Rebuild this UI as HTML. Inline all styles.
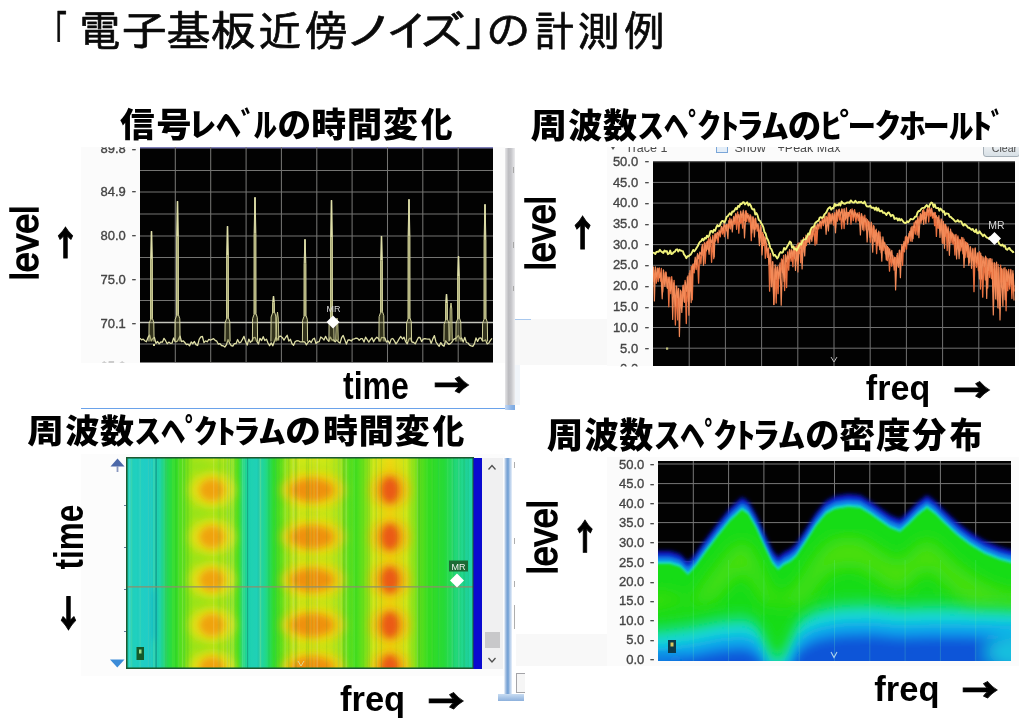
<!DOCTYPE html>
<html lang="ja"><head><meta charset="utf-8"><title>「電子基板近傍ノイズ」の計測例</title>
<style>
html,body{margin:0;padding:0;background:#fff}
body{width:1024px;height:727px;position:relative;overflow:hidden;font-family:"Liberation Sans","Noto Sans CJK JP",sans-serif;color:#000}
.abs{position:absolute;display:block}
.ch{filter:blur(0.45px)}
.yl{position:absolute;font-family:"Liberation Sans",sans-serif;font-size:13px;line-height:16px;text-align:right;color:#444;-webkit-text-stroke:0.35px #444;white-space:nowrap;filter:blur(0.5px)}
.pane{position:absolute;background:#fbfbfb}
.tb{position:absolute;overflow:hidden;font-family:"Liberation Sans",sans-serif;font-size:12.5px;line-height:15px;color:#4c4c4c;filter:blur(0.45px)}
.tb span{position:absolute;white-space:nowrap}
</style></head><body>


<!-- panes / window chrome -->
<div class="pane" style="left:81px;top:147px;width:424px;height:216px;background:#fbfbfb"></div>
<div class="pane" style="left:81px;top:407.5px;width:424px;height:1.3px;background:#6aa2ea"></div>
<div class="pane" style="left:504.5px;top:147.5px;width:10px;height:262px;background:linear-gradient(90deg,#e6e6e8,#bcbcc0 35%,#c4c4c8 60%,#ececee)"></div>
<div class="pane" style="left:505px;top:404.5px;width:10px;height:5.5px;background:linear-gradient(90deg,#c4d8f2,#8cb4e8 60%,#7aa8e0)"></div>

<div class="pane" style="left:607px;top:147px;width:412px;height:220px;background:#fbfbfb"></div>
<div class="pane" style="left:515px;top:319px;width:92px;height:46px;background:#f8f8f8"></div>
<div class="pane" style="left:515px;top:319px;width:16px;height:1.2px;background:#a8c8ee"></div>
<div class="pane" style="left:515px;top:365px;width:5px;height:40px;background:#f1f5fa"></div>
<div class="pane" style="left:512px;top:366px;width:512px;height:50px;background:#fff;left:520px"></div>

<div class="pane" style="left:81px;top:454px;width:424px;height:222px;background:#fcfcfc"></div>
<div class="pane" style="left:482px;top:458px;width:21px;height:211px;background:#f0f0f1"></div>
<div class="pane" style="left:485px;top:631.5px;width:14.5px;height:16px;background:#c8c8ca"></div>
<svg class="abs" style="left:482px;top:458px" width="21" height="211" viewBox="0 0 21 211"><path d="M6.5 11.5l3.5-4l3.5 4M6.5 200l3.5 4l3.5-4" stroke="#505050" stroke-width="1.3" fill="none"/></svg>
<div class="pane" style="left:503.5px;top:458px;width:8px;height:243px;background:linear-gradient(90deg,#f4f8fc,#9ab8de 25%,#6c9cd2 50%,#a8c4e6 70%,#e8f0fa)"></div>
<div class="pane" style="left:497.5px;top:694px;width:26px;height:7px;background:linear-gradient(180deg,#c8dcf2,#8cb0dc)"></div>
<div class="pane" style="left:515.5px;top:673px;width:9px;height:20px;background:#f6f6f6;border:1px solid #a4a4a8;border-right:none;box-sizing:border-box"></div>
<div class="pane" style="left:516px;top:634px;width:91px;height:32px;background:#f8f8f8"></div>
<svg class="abs" style="left:105px;top:455px" width="22" height="220" viewBox="105 455 22 220"><path d="M110.5 466.5L117.5 458.5L124.5 466.5Z" fill="#4c68a8"/><rect x="116.6" y="466" width="1.8" height="6" fill="#8a98c0"/><path d="M110 659.5L124.5 659.5L117.3 667.5Z" fill="#3c8cd8"/><path d="M124 505.5h2.4M124 547.5h2.4M124 589.5h2.4M124 631.5h2.4" stroke="#6a7a9a" stroke-width="1"/></svg>

<div class="pane" style="left:607px;top:457px;width:412px;height:209px;background:#fbfbfb"></div>
<svg class="abs" style="left:512px;top:147px" width="6" height="520" viewBox="512 147 6 520"><path d="M513.5 167v6M513.5 242v6M513.5 286v5M514.5 462v6M514.5 538v6M514.5 581v6M514.5 605v24" stroke="#9a9a9a" stroke-width="1" opacity="0.8"/></svg>

<svg class="abs ch" style="left:140px;top:147px" width="353" height="215.5" viewBox="140 147 353 215.5">
<rect x="140" y="147" width="353" height="215.5" fill="#020202"/>
<rect x="140" y="147" width="353" height="1.5" fill="#7e7eb8"/>
<path d="M175.3 147V362.5M210.7 147V362.5M246.1 147V362.5M281.4 147V362.5M316.8 147V362.5M352.1 147V362.5M387.5 147V362.5M422.8 147V362.5M458.2 147V362.5M140 170.5H493M140 192H493M140 214H493M140 236H493M140 257.5H493M140 279H493M140 300.5H493M140 344H493" stroke="#747472" stroke-width="1.05" fill="none"/>
<path d="M140 322.5H493" stroke="#c4c4bc" stroke-width="1.5" fill="none"/>
<path d="M140 338.3 L141.6 339.9 L143.2 339.1 L144.8 340.8 L146.4 341.7 L148 337.4 L149.6 335 L151.2 340.9 L152.8 338.6 L154.4 337.4 L156 343.3 L157.6 341.5 L159.2 343.8 L160.8 341.8 L162.4 342.2 L164 338.3 L165.6 340.7 L167.2 343.7 L168.8 342.1 L170.4 343.3 L172 343.2 L173.6 338 L175.2 341.6 L176.8 341.7 L178.4 339.4 L180 336.1 L181.6 341.6 L183.2 340.8 L184.8 342.5 L186.4 344.6 L188 344.1 L189.6 345.7 L191.2 341.9 L192.8 343.7 L194.4 341.5 L196 344.6 L197.6 345.5 L199.2 339.4 L200.8 336.9 L202.4 336.5 L204 342.6 L205.6 340.9 L207.2 341.8 L208.8 339.4 L210.4 340.1 L212 339.3 L213.6 338.7 L215.2 340.4 L216.8 341.2 L218.4 344.2 L220 343.7 L221.6 345.5 L223.2 345.8 L224.8 347 L226.4 344.9 L228 339.6 L229.6 343.1 L231.2 345.6 L232.8 346.2 L234.4 343.6 L236 343.7 L237.6 339.5 L239.2 342.8 L240.8 342.2 L242.4 339.4 L244 336.4 L245.6 341.6 L247.2 345.1 L248.8 339.1 L250.4 342.4 L252 340.6 L253.6 337.6 L255.2 337.5 L256.8 341.4 L258.4 344 L260 338.3 L261.6 340.5 L263.2 336.7 L264.8 340.6 L266.4 339.1 L268 343.1 L269.6 345.7 L271.2 342.9 L272.8 345.8 L274.4 341.3 L276 337.3 L277.6 339.9 L279.2 336.3 L280.8 336.1 L282.4 337.7 L284 340.2 L285.6 337.5 L287.2 335.3 L288.8 341.2 L290.4 339.3 L292 343.8 L293.6 345.3 L295.2 341.6 L296.8 340.7 L298.4 340.8 L300 341.8 L301.6 341.9 L303.2 341.6 L304.8 342 L306.4 344.9 L308 342.5 L309.6 340.8 L311.2 342.5 L312.8 339.2 L314.4 338.2 L316 343.5 L317.6 342 L319.2 341.6 L320.8 336.9 L322.4 338.2 L324 340.1 L325.6 336.3 L327.2 339.6 L328.8 341.2 L330.4 337.1 L332 340 L333.6 340 L335.2 341.8 L336.8 339.8 L338.4 341.9 L340 343.1 L341.6 337.7 L343.2 335.5 L344.8 339.7 L346.4 344.1 L348 340 L349.6 339.9 L351.2 341 L352.8 339.2 L354.4 338.8 L356 338.2 L357.6 338.3 L359.2 340.3 L360.8 338.7 L362.4 338.7 L364 342 L365.6 337.2 L367.2 339.6 L368.8 342.1 L370.4 339.6 L372 337.8 L373.6 341.8 L375.2 338.9 L376.8 337.2 L378.4 338.5 L380 341.2 L381.6 337.5 L383.2 337.6 L384.8 337.8 L386.4 342.1 L388 340.7 L389.6 343.6 L391.2 339.1 L392.8 338.5 L394.4 340.9 L396 343.9 L397.6 341.6 L399.2 338.7 L400.8 336.5 L402.4 339 L404 337.2 L405.6 341.6 L407.2 343.8 L408.8 339.3 L410.4 338.1 L412 342 L413.6 342.4 L415.2 343.9 L416.8 340.7 L418.4 337.5 L420 337.4 L421.6 341.6 L423.2 339.1 L424.8 338.6 L426.4 338.9 L428 339.1 L429.6 339.1 L431.2 343.4 L432.8 338.9 L434.4 335.6 L436 342 L437.6 344.4 L439.2 346.3 L440.8 342.6 L442.4 345.2 L444 346.2 L445.6 340.7 L447.2 342.7 L448.8 344.3 L450.4 343.6 L452 342 L453.6 339.4 L455.2 338.7 L456.8 337.4 L458.4 335.5 L460 339 L461.6 338 L463.2 342 L464.8 337.4 L466.4 342.5 L468 343 L469.6 345.2 L471.2 345.9 L472.8 346.3 L474.4 343.8 L476 337.9 L477.6 341.4 L479.2 338.1 L480.8 337.8 L482.4 340.6 L484 340.8 L485.6 339.9 L487.2 343.9 L488.8 343 L490.4 340.3 L492 338.3" stroke="#dedea6" stroke-width="1.3" fill="none" stroke-linejoin="round"/>
<path d="M148.9 341.5 L149.1 323.6 L150.5 319.6 L150.6 258.9 L151.4 232 L151.6 232 L152.4 258.9 L152.5 318.6 L153.8 322.6 L154.1 341.5" stroke="#dcdca4" stroke-width="0.95" fill="#6c6c3c" fill-opacity="0.45" stroke-linejoin="round"/>
<path d="M151.5 231 V258.9" stroke="#dedea8" stroke-width="1.5" fill="none"/>
<path d="M151.5 258.9 V319.6" stroke="#c4c48c" stroke-width="2.2" fill="none" opacity="0.8"/>
<path d="M174.9 341.5 L175.1 319.8 L176.5 315.8 L176.6 236.7 L177.4 202 L177.6 202 L178.4 236.7 L178.5 314.8 L179.8 318.8 L180.1 341.5" stroke="#dcdca4" stroke-width="0.95" fill="#6c6c3c" fill-opacity="0.45" stroke-linejoin="round"/>
<path d="M177.5 201 V236.7" stroke="#dedea8" stroke-width="1.5" fill="none"/>
<path d="M177.5 236.7 V315.8" stroke="#c4c48c" stroke-width="2.2" fill="none" opacity="0.8"/>
<path d="M224.9 341.5 L225.1 322.8 L226.5 318.8 L226.6 255.1 L227.4 227 L227.6 227 L228.4 255.1 L228.5 317.8 L229.8 321.8 L230.1 341.5" stroke="#dcdca4" stroke-width="0.95" fill="#6c6c3c" fill-opacity="0.45" stroke-linejoin="round"/>
<path d="M227.5 226 V255.1" stroke="#dedea8" stroke-width="1.5" fill="none"/>
<path d="M227.5 255.1 V318.8" stroke="#c4c48c" stroke-width="2.2" fill="none" opacity="0.8"/>
<path d="M252.4 341.5 L252.6 318.5 L254 314.5 L254.1 233.6 L254.9 198 L255.1 198 L255.9 233.6 L256 313.5 L257.3 317.5 L257.6 341.5" stroke="#dcdca4" stroke-width="0.95" fill="#6c6c3c" fill-opacity="0.45" stroke-linejoin="round"/>
<path d="M255 197 V233.6" stroke="#dedea8" stroke-width="1.5" fill="none"/>
<path d="M255 233.6 V314.5" stroke="#c4c48c" stroke-width="2.2" fill="none" opacity="0.8"/>
<path d="M270.9 341.5 L271.1 317 L272.5 313 L272.6 302.4 L273.4 297 L273.6 297 L274.4 302.4 L274.5 312 L275.8 316 L276.1 341.5" stroke="#dcdca4" stroke-width="0.95" fill="#6c6c3c" fill-opacity="0.45" stroke-linejoin="round"/>
<path d="M273.5 296 V302.4" stroke="#dedea8" stroke-width="1.5" fill="none"/>
<path d="M273.5 302.4 V313" stroke="#c4c48c" stroke-width="2.2" fill="none" opacity="0.8"/>
<path d="M302.4 341.5 L302.6 320.3 L304 316.3 L304.1 263.5 L304.9 240 L305.1 240 L305.9 263.5 L306 315.3 L307.3 319.3 L307.6 341.5" stroke="#dcdca4" stroke-width="0.95" fill="#6c6c3c" fill-opacity="0.45" stroke-linejoin="round"/>
<path d="M305 239 V263.5" stroke="#dedea8" stroke-width="1.5" fill="none"/>
<path d="M305 263.5 V316.3" stroke="#c4c48c" stroke-width="2.2" fill="none" opacity="0.8"/>
<path d="M328.9 341.5 L329.1 323.2 L330.5 319.2 L330.6 237.1 L331.4 201 L331.6 201 L332.4 237.1 L332.5 318.2 L333.8 322.2 L334.1 341.5" stroke="#dcdca4" stroke-width="0.95" fill="#6c6c3c" fill-opacity="0.45" stroke-linejoin="round"/>
<path d="M331.5 200 V237.1" stroke="#dedea8" stroke-width="1.5" fill="none"/>
<path d="M331.5 237.1 V319.2" stroke="#c4c48c" stroke-width="2.2" fill="none" opacity="0.8"/>
<path d="M378.9 341.5 L379.1 316.7 L380.5 312.7 L380.6 260.3 L381.4 237 L381.6 237 L382.4 260.3 L382.5 311.7 L383.8 315.7 L384.1 341.5" stroke="#dcdca4" stroke-width="0.95" fill="#6c6c3c" fill-opacity="0.45" stroke-linejoin="round"/>
<path d="M381.5 236 V260.3" stroke="#dedea8" stroke-width="1.5" fill="none"/>
<path d="M381.5 260.3 V312.7" stroke="#c4c48c" stroke-width="2.2" fill="none" opacity="0.8"/>
<path d="M406.4 341.5 L406.6 322.9 L408 318.9 L408.1 236.3 L408.9 200 L409.1 200 L409.9 236.3 L410 317.9 L411.3 321.9 L411.6 341.5" stroke="#dcdca4" stroke-width="0.95" fill="#6c6c3c" fill-opacity="0.45" stroke-linejoin="round"/>
<path d="M409 199 V236.3" stroke="#dedea8" stroke-width="1.5" fill="none"/>
<path d="M409 236.3 V318.9" stroke="#c4c48c" stroke-width="2.2" fill="none" opacity="0.8"/>
<path d="M443.9 341.5 L444.1 324.2 L445.5 320.2 L445.6 303.2 L446.4 295 L446.6 295 L447.4 303.2 L447.5 319.2 L448.8 323.2 L449.1 341.5" stroke="#dcdca4" stroke-width="0.95" fill="#6c6c3c" fill-opacity="0.45" stroke-linejoin="round"/>
<path d="M446.5 294 V303.2" stroke="#dedea8" stroke-width="1.5" fill="none"/>
<path d="M446.5 303.2 V320.2" stroke="#c4c48c" stroke-width="2.2" fill="none" opacity="0.8"/>
<path d="M455.9 341.5 L456.1 323.1 L457.5 319.1 L457.6 276.2 L458.4 257 L458.6 257 L459.4 276.2 L459.5 318.1 L460.8 322.1 L461.1 341.5" stroke="#dcdca4" stroke-width="0.95" fill="#6c6c3c" fill-opacity="0.45" stroke-linejoin="round"/>
<path d="M458.5 256 V276.2" stroke="#dedea8" stroke-width="1.5" fill="none"/>
<path d="M458.5 276.2 V319.1" stroke="#c4c48c" stroke-width="2.2" fill="none" opacity="0.8"/>
<path d="M482.4 341.5 L482.6 323.2 L484 319.2 L484.1 239.9 L484.9 205 L485.1 205 L485.9 239.9 L486 318.2 L487.3 322.2 L487.6 341.5" stroke="#dcdca4" stroke-width="0.95" fill="#6c6c3c" fill-opacity="0.45" stroke-linejoin="round"/>
<path d="M485 204 V239.9" stroke="#dedea8" stroke-width="1.5" fill="none"/>
<path d="M485 239.9 V319.2" stroke="#c4c48c" stroke-width="2.2" fill="none" opacity="0.8"/>
<path d="M276.2 340.5 L276.7 318 L277.5 312 L278.3 318 L278.8 340.5" stroke="#d4d498" stroke-width="0.9" fill="#7c7c44" fill-opacity="0.6"/>
<path d="M449.7 340.5 L450.2 309 L451 303 L451.8 309 L452.3 340.5" stroke="#d4d498" stroke-width="0.9" fill="#7c7c44" fill-opacity="0.6"/>
<path d="M335.7 340.5 L336.2 324 L337 318 L337.8 324 L338.3 340.5" stroke="#d4d498" stroke-width="0.9" fill="#7c7c44" fill-opacity="0.6"/>
<text x="333.5" y="312" font-family="Liberation Sans, sans-serif" font-size="9" fill="#dcdcdc" text-anchor="middle">MR</text>
<path d="M333 315.5 L339.5 322 L333 328.5 L326.5 322Z" fill="#fff"/>
<rect x="153" y="344" width="2" height="2" fill="#d9d9a0"/>
</svg>
<svg class="abs ch" style="left:653px;top:161px" width="362" height="205" viewBox="653 161 362 205">
<rect x="653" y="161" width="362" height="205" fill="#020202"/>
<path d="M689.2 161V366M725.4 161V366M761.6 161V366M797.8 161V366M834 161V366M870.2 161V366M906.4 161V366M942.6 161V366M978.8 161V366M653 161.7H1015M653 182.4H1015M653 203.1H1015M653 223.9H1015M653 244.6H1015M653 265.3H1015M653 286H1015M653 306.7H1015M653 327.5H1015M653 348.2H1015" stroke="#727272" stroke-width="1" fill="none"/>
<path d="M653.1 269 L654.2 281.8 L655.1 270.2 L656.3 283.2 L657.4 268.1 L658.2 281.5 L659.3 267.9 L660.5 281.1 L661.4 268.5 L662.7 292 L663.9 273 L664.7 284.7 L665.8 271.9 L667.1 287.2 L667.9 277 L668.8 306.8 L669.8 277.1 L670.8 293.6 L671.7 276.6 L672.9 294.8 L674.1 280.3 L675.4 325.1 L676.6 286.3 L677.7 319.9 L678.5 288.3 L679.7 308.5 L681 291.4 L682 306.6 L683 285.9 L684.3 301.5 L685.1 280.3 L686.3 323.5 L687.3 277.2 L688.4 301.7 L689.3 273.1 L690.4 290.9 L691.3 266.3 L692.3 299.8 L693.2 263.9 L694.2 272.8 L695 260.8 L696.2 269.5 L697.4 255.6 L698.6 283.2 L699.6 253.4 L700.9 263.8 L702.1 246.8 L703.1 255.3 L704.4 242.7 L705.2 263.5 L706.4 242 L707.6 249.2 L708.5 238.6 L709.5 247 L710.4 236.9 L711.6 262.3 L712.8 235.4 L713.7 258.7 L714.8 234.8 L715.6 241 L716.8 233.3 L718.1 242.8 L719.1 230.2 L720.3 236.8 L721.4 226.7 L722.5 234 L723.7 227.9 L724.5 236.6 L725.6 225.7 L726.7 230.8 L727.7 224.3 L729 228.3 L729.8 218.1 L730.6 228.9 L731.5 220.7 L732.6 225.4 L733.7 216.3 L734.7 224.1 L735.6 214.2 L736.6 229.3 L737.7 212 L738.8 233.2 L740 214.9 L740.8 223.3 L741.7 214.4 L742.6 228.1 L743.5 213.6 L744.4 220.5 L745.4 211.2 L746.7 221.5 L747.7 213.3 L749 222.2 L750.1 214.6 L751.3 240.7 L752.2 216.9 L753.3 229 L754.1 218.8 L755.4 229.1 L756.4 223.4 L757.2 231.2 L758.1 225.4 L759.2 237.3 L760.4 225.4 L761.5 242.4 L762.5 232.4 L763.5 245.4 L764.4 236.9 L765.3 258.3 L766.5 243.5 L767.5 257.4 L768.5 248 L769.6 291.2 L770.5 253.4 L771.5 286.5 L772.8 261.7 L773.9 304.5 L775 268.8 L776.2 303 L777.1 267 L778.1 293.7 L779.3 265 L780.6 276.8 L781.5 259 L782.5 272.5 L783.6 255.4 L784.6 290.5 L785.7 255.1 L786.6 287.5 L787.7 251.8 L788.7 270.1 L789.9 250 L791.1 261.3 L792.1 251.2 L792.9 266.6 L793.8 248.6 L794.8 258.7 L796 246.3 L797.1 260.9 L798 243.4 L799 253.7 L799.9 245.4 L800.7 262.7 L802 242.1 L802.8 252.1 L803.6 239.9 L804.8 247.1 L805.6 237.7 L806.4 245.6 L807.4 237.2 L808.4 242 L809.6 234.1 L810.7 238.9 L811.6 229.6 L812.6 236.5 L813.8 228.9 L815.1 245.1 L815.9 225.5 L816.8 243.6 L817.9 224.4 L818.8 228.9 L820 221.5 L821.1 228.5 L822.3 218 L823.3 225.6 L824.2 218.2 L825.5 223.2 L826.3 216.4 L827.4 222.2 L828.4 212.8 L829.2 223.3 L830.3 214.7 L831.2 220.1 L832.5 213.4 L833.5 225.1 L834.7 212.7 L835.5 227.9 L836.4 209.8 L837.4 221.1 L838.5 209.8 L839.6 219.9 L840.5 212.7 L841.7 228.8 L842.9 209.3 L844.1 228.5 L845.1 212.5 L846.4 218 L847.7 212.4 L848.9 216.5 L849.9 210.6 L851 224.1 L852.1 208.8 L853.3 220.7 L854.6 209.7 L855.9 222.1 L857.1 213 L858.3 220.8 L859.2 212.4 L860 224.6 L861.3 213.7 L862.1 222.9 L863.1 216.2 L863.9 230.8 L864.8 215.2 L866.1 229.9 L867.4 219.6 L868.2 229.7 L869.2 222.3 L870.4 242.1 L871.5 223 L872.6 236.9 L873.6 225.4 L874.7 241 L875.5 230.5 L876.6 253.7 L877.8 232.8 L879 245.9 L880 232.1 L881.2 252.8 L882.3 239.9 L883.2 250.5 L884.3 242.2 L885.4 253.8 L886.4 245.5 L887.4 260.7 L888.4 247.7 L889.5 271.2 L890.7 252 L891.7 266.1 L892.9 255.7 L894.2 270.1 L895.4 257.6 L896.2 270.1 L897.4 253.4 L898.6 267.3 L899.7 250.2 L900.6 261.6 L901.7 248 L902.6 265.4 L903.5 243.7 L904.5 251.8 L905.4 237 L906.5 249.1 L907.4 237.1 L908.5 242.2 L909.7 231.3 L910.7 241 L912 226.4 L913.1 238.6 L914.1 222.7 L915.3 234.1 L916.3 220.4 L917.2 235 L918 218.8 L919.1 223.9 L920.2 215.8 L921 223.2 L921.9 214.7 L922.8 219.6 L923.7 209.5 L924.6 217.6 L925.8 212.1 L926.7 216.1 L927.7 207 L928.7 222 L929.6 209.5 L930.7 216.1 L931.6 210.7 L932.5 218.1 L933.6 213.4 L934.6 225.7 L935.4 212.6 L936.4 236.4 L937.4 217.5 L938.2 228.3 L939.4 220.1 L940.5 229.1 L941.8 219.6 L943.1 243.4 L944.2 224.4 L945.1 236.3 L946.2 227 L947.2 250.6 L948.1 227 L948.9 240.9 L950.1 231.3 L951 243 L951.8 232.2 L952.9 244 L953.8 234.7 L954.9 255 L956 234.3 L957 249 L957.9 235.9 L958.9 250.2 L959.8 239.4 L960.8 250.8 L961.6 237.3 L962.9 253.8 L964 239.1 L965.1 257.6 L966.3 242.4 L967.3 257.2 L968.4 245.4 L969.5 262.7 L970.5 247.3 L971.7 260.7 L972.8 248.5 L974 291.7 L975.2 247.8 L976.5 267.3 L977.5 253.4 L978.4 270.6 L979.5 251.7 L980.4 289 L981.5 255.8 L982.7 297.2 L984 257.9 L985.3 280 L986.4 257.8 L987.7 288.1 L988.7 260 L989.7 277.4 L990.7 258.6 L991.5 278.6 L992.5 262.9 L993.3 291.8 L994.2 262.7 L995.1 286 L996.3 263.5 L997.3 300.1 L998.1 264.3 L999.3 308.7 L1000.6 265.1 L1001.7 287.2 L1002.8 269.1 L1003.7 288.7 L1005 267.7 L1006.1 310.8 L1007 270.9 L1007.8 290.6 L1008.7 269.4 L1009.6 289 L1010.8 269.5 L1011.9 298.5 L1013.1 273.9 L1014.2 291.5" stroke="#e8703f" stroke-width="1.3" fill="none" stroke-linejoin="round" opacity="1.0"/>
<path d="M653.5 266.4 L654.4 301 L655.4 266.9 L656.7 277 L658.1 268.4 L659.6 277.6 L660.9 272.8 L662.2 298.8 L663.5 269.9 L664.9 286.4 L666 272.5 L667.4 288.4 L668.9 277.5 L670.4 291 L671.7 279.5 L672.7 319.5 L673.8 282.9 L675.3 306.2 L676.3 286.1 L677.6 297.7 L678.5 288.6 L679.4 336.6 L680.6 290.1 L681.8 312.4 L683.2 285.2 L684.4 302.3 L685.4 282.1 L686.7 291.3 L688 275.9 L688.9 315.2 L690 270.6 L691.2 302.6 L692.6 264.9 L693.8 269.3 L695.2 257.2 L696.5 264.6 L697.5 253.7 L698.6 258.9 L699.8 252.2 L701.1 254.6 L702.4 244.3 L703.5 265.3 L705 243.4 L706.4 251 L707.6 241.1 L709.1 254.3 L710.3 238.9 L711.6 242.8 L712.9 236.9 L714.2 257 L715.1 233.4 L716.4 238 L717.4 232.3 L718.6 235.3 L719.5 231.8 L720.6 232.8 L721.6 226.3 L723.1 230.8 L724.1 223.3 L725.3 228.9 L726.4 224.4 L727.9 238.6 L728.8 220.5 L730.2 224.2 L731.2 219 L732.3 232 L733.7 217.1 L734.7 221.2 L735.8 213.5 L737.1 219.1 L738.5 214.6 L739.5 221.4 L740.7 211 L741.9 217.6 L743.3 210.2 L744.5 238 L746 210.7 L747.2 217.7 L748.3 215.2 L749.7 219.2 L750.8 215.7 L751.8 233 L753.2 216.8 L754.4 237 L755.6 218 L756.6 226.7 L758 223.8 L759.4 245.6 L760.8 227.4 L762 254.9 L763.3 234.2 L764.6 244.1 L765.6 237.9 L766.8 250.3 L768 248.8 L769 264.3 L770.4 253.7 L771.6 286.7 L772.5 261.8 L773.8 304.4 L775.2 264.8 L776.2 279.3 L777.4 266.8 L778.8 278.6 L780.1 262.9 L781.2 305.2 L782.6 259.8 L784.1 281.5 L785.4 254.7 L786.4 262 L787.4 255.8 L788.5 258.9 L789.5 249.5 L790.7 258 L791.7 249.6 L792.9 256.4 L794.3 246.8 L795.5 270.4 L797 245.2 L797.9 271.9 L799.1 242.5 L800.1 248.8 L801.1 240 L802.1 269 L803.5 237.6 L804.7 256 L805.9 235 L807 242.4 L808.4 234.4 L809.6 243.5 L810.5 232.3 L811.9 241.3 L813 227.2 L813.9 231.4 L814.9 225.8 L816.3 229.2 L817.5 224.2 L818.7 226.2 L820.2 221.2 L821.3 223.9 L822.6 220.8 L823.7 223.3 L824.9 215.5 L826.1 234.3 L827.3 217.3 L828.4 231 L829.7 212.8 L831 224 L832.2 213.9 L833.2 220.5 L834.4 214.2 L835.5 232.8 L836.7 210.6 L837.9 215.4 L839.2 209 L840.5 215.5 L841.8 208.9 L843.2 221.8 L844.2 208.7 L845.3 219.9 L846.4 207.9 L847.5 224.1 L848.5 212.4 L849.7 213.9 L850.7 209.5 L851.9 214.5 L852.8 210.7 L853.9 217.2 L855.1 212.3 L856.3 216.2 L857.3 213.6 L858.2 216.6 L859.2 214.5 L860.4 235 L861.7 213.9 L862.8 229.7 L863.9 217.9 L865 222.1 L866.1 218.4 L867.1 241.9 L868.6 221 L870 237.3 L871.2 222.2 L872.7 252.2 L873.9 226.3 L874.8 241.9 L876.2 229.2 L877.3 245.1 L878.7 231.2 L879.8 249.6 L880.7 236.9 L881.8 261.1 L882.9 236.8 L883.9 246.8 L884.9 242.9 L886.3 259.9 L887.4 246.3 L888.7 257 L889.7 248.9 L890.7 258.8 L891.8 250.4 L893.3 264.3 L894.7 257 L895.6 289.9 L897 255.4 L898.4 266.6 L899.3 250.3 L900.4 277.7 L901.8 244.7 L902.9 250.9 L904 241.3 L905.1 246.2 L906.4 235.9 L907.9 243.7 L909 233.3 L910.1 236.1 L911.1 227.5 L912.1 241.5 L913.2 226 L914.3 227.6 L915.4 221 L916.8 224.1 L917.9 216.6 L918.9 237.7 L920.4 213.7 L921.3 220.4 L922.6 210.7 L923.7 224.4 L924.6 212.2 L925.9 223.4 L927.1 209.2 L928.3 212.3 L929.5 207.1 L930.6 213.2 L931.6 208 L932.8 215.7 L934.1 212.3 L935.1 217.6 L936.4 215.7 L937.7 224.9 L938.9 215.7 L940 237.5 L941.1 218.9 L942.3 243.1 L943.3 221.3 L944.5 248.3 L945.6 224.3 L947 233.2 L948 228.5 L949.4 255.3 L950.5 229.2 L951.7 238.1 L952.7 233.4 L954.2 241.1 L955.1 235.1 L956.6 258.9 L957.8 237.1 L959.1 258.7 L960.3 240.2 L961.7 247 L962.9 237.6 L964 267.5 L965.2 241.5 L966.5 250.4 L967.7 243.2 L968.8 265.4 L970.3 246.7 L971.5 268.3 L972.8 249.5 L974 266.7 L975.2 248.6 L976.5 262.6 L978 252.6 L979.4 279 L980.7 253.2 L981.6 279 L982.9 256.7 L984.3 266.8 L985.6 256.1 L986.7 298.5 L987.9 258.5 L988.8 270.4 L989.8 258.5 L991 271.5 L992 259.2 L993.3 314.9 L994.7 263 L995.7 299 L996.6 262 L997.9 307.8 L998.9 267.3 L1000 319.9 L1001.4 268.5 L1002.9 306.2 L1003.9 268 L1005.1 299.8 L1006.2 269.5 L1007.2 281.5 L1008.4 271.6 L1009.6 285.1 L1010.7 270.4 L1011.8 284.5 L1012.9 270.7 L1014 300.5" stroke="#f28a58" stroke-width="1.2" fill="none" stroke-linejoin="round" opacity="1.0"/>
<path d="M653 252.8 L654.1 252.9 L655.3 254 L656.4 251.9 L657.6 251.7 L658.7 251.7 L659.9 249.8 L661 251.3 L662.2 252.1 L663.3 253 L664.5 250.5 L665.6 251.6 L666.8 251.1 L667.9 254.2 L669.1 253.5 L670.2 250.6 L671.4 254.1 L672.5 253.7 L673.7 252.2 L674.8 251.7 L676 249.6 L677.1 249.3 L678.3 251.5 L679.4 249.8 L680.6 250.5 L681.7 250.9 L682.9 251.2 L684 254.4 L685.2 255.8 L686.3 258.2 L687.5 256.3 L688.6 256.2 L689.8 255.1 L690.9 254.4 L692.1 252.1 L693.2 249.9 L694.4 251.3 L695.5 249.8 L696.7 247.7 L697.8 246 L699 243.3 L700.1 241.8 L701.3 240.9 L702.4 238.8 L703.6 240.5 L704.7 237.9 L705.9 238.6 L707 235.7 L708.2 237 L709.3 235.5 L710.5 231.1 L711.6 230.9 L712.8 232.6 L713.9 229.8 L715.1 230.8 L716.2 227.5 L717.4 225.1 L718.5 226.3 L719.7 225.9 L720.8 222.8 L722 221 L723.1 221 L724.3 222.5 L725.4 220.6 L726.6 216.9 L727.7 216.2 L728.9 214.5 L730 213.2 L731.2 215 L732.3 211.4 L733.5 211.7 L734.6 210.1 L735.8 208.1 L736.9 209.3 L738.1 205.9 L739.2 206.9 L740.4 203.8 L741.5 204.1 L742.7 202.5 L743.8 202.2 L745 204.4 L746.1 203.3 L747.3 202.3 L748.4 205.5 L749.6 203.7 L750.7 205.4 L751.9 208.8 L753 209.6 L754.2 209.2 L755.3 214.5 L756.5 213.1 L757.6 215.4 L758.8 220 L759.9 220.7 L761.1 223.1 L762.2 224.7 L763.4 227.4 L764.5 232.2 L765.7 233.7 L766.8 238 L768 240 L769.1 243.2 L770.3 248.1 L771.4 249.1 L772.6 252.3 L773.7 255.7 L774.9 254.9 L776 256.6 L777.2 258.4 L778.3 256.9 L779.5 253.5 L780.6 252 L781.8 252.8 L782.9 252.2 L784.1 247.9 L785.2 249.6 L786.4 248.1 L787.5 245.9 L788.7 244 L789.8 241.6 L791 242.5 L792.1 247.7 L793.3 246.3 L794.4 249.3 L795.6 248.6 L796.7 250.4 L797.9 248.2 L799 245.6 L800.2 243.8 L801.3 244.6 L802.5 240.6 L803.6 239.6 L804.8 239.4 L805.9 239 L807.1 236.4 L808.2 233.5 L809.4 234.5 L810.5 230.1 L811.7 227.7 L812.8 227.2 L814 226.3 L815.1 223.2 L816.3 222 L817.4 221.2 L818.6 220.6 L819.7 217.6 L820.9 217.2 L822 218 L823.2 217.1 L824.3 214.5 L825.5 213.3 L826.6 211.9 L827.8 209.2 L828.9 207.9 L830.1 207 L831.2 209.7 L832.4 208 L833.5 208.2 L834.7 203.8 L835.8 205.9 L837 204.8 L838.1 205.4 L839.3 203.3 L840.4 205.6 L841.6 201.5 L842.7 203 L843.9 203.5 L845 203.8 L846.2 202.9 L847.3 202.5 L848.5 202.5 L849.6 202.7 L850.8 200.4 L851.9 201.7 L853.1 202.6 L854.2 202.5 L855.4 200.7 L856.5 202.3 L857.7 202.9 L858.8 202 L860 202.5 L861.1 201.8 L862.3 202.9 L863.4 203.3 L864.6 201.6 L865.7 204.4 L866.9 206.4 L868 206.5 L869.2 206.5 L870.3 205.7 L871.5 207.7 L872.6 207.6 L873.8 207.7 L874.9 209.8 L876.1 207.4 L877.2 210.6 L878.4 208.3 L879.5 211.2 L880.7 211.2 L881.8 210.6 L883 212.9 L884.1 212.5 L885.3 213.4 L886.4 215.1 L887.6 212.9 L888.7 212.4 L889.9 214.2 L891 216.2 L892.2 214.9 L893.3 215.4 L894.5 218.9 L895.6 218.5 L896.8 218.1 L897.9 220.4 L899.1 218.6 L900.2 220.5 L901.4 219.1 L902.5 220.5 L903.7 222.3 L904.8 223 L906 223 L907.1 221.2 L908.3 222.2 L909.4 220.8 L910.6 218.9 L911.7 219.2 L912.9 219.4 L914 218.3 L915.2 216.6 L916.3 216.5 L917.5 212.6 L918.6 211 L919.8 211 L920.9 209.3 L922.1 208.1 L923.2 207.9 L924.4 207.8 L925.5 206.4 L926.7 205 L927.8 206.6 L929 206.7 L930.1 204.1 L931.3 202.5 L932.4 203 L933.6 207.1 L934.7 204.4 L935.9 207.8 L937 208.1 L938.2 207.9 L939.3 210.7 L940.5 208.5 L941.6 209.8 L942.8 211.9 L943.9 211.1 L945.1 215 L946.2 213.3 L947.4 213.6 L948.5 213.9 L949.7 216.9 L950.8 216.9 L952 218.3 L953.1 219.1 L954.3 220.4 L955.4 221.7 L956.6 221.3 L957.7 220 L958.9 221.8 L960 221.3 L961.2 221.4 L962.3 223.9 L963.5 225.6 L964.6 224 L965.8 225 L966.9 225.9 L968.1 227.8 L969.2 227.7 L970.4 228.7 L971.5 229.8 L972.7 228.9 L973.8 231.1 L975 232.1 L976.1 229.4 L977.3 233.4 L978.4 233.1 L979.6 231.3 L980.7 233.2 L981.9 234.5 L983 236.2 L984.2 234.6 L985.3 235.8 L986.5 237.5 L987.6 237.6 L988.8 238.7 L989.9 237.2 L991.1 238.4 L992.2 237.1 L993.4 239.6 L994.5 240.6 L995.7 240.6 L996.8 241.7 L998 240.4 L999.1 243.8 L1000.3 244.9 L1001.4 245.6 L1002.6 244.6 L1003.7 246.6 L1004.9 245.7 L1006 249 L1007.2 249.8 L1008.3 248.5 L1009.5 248 L1010.6 249.9 L1011.8 250.8 L1012.9 252.2 L1014.1 251.6" stroke="#f0f27c" stroke-width="1.9" fill="none" stroke-linejoin="round"/>
<text x="996.5" y="228.5" font-family="Liberation Sans, sans-serif" font-size="10.5" fill="#d8d8d8" text-anchor="middle">MR</text>
<path d="M994.5 232 L1001 238.5 L994.5 245 L988 238.5Z" fill="#fff"/>
<rect x="666" y="347.5" width="2.2" height="2.2" fill="#c8c880"/>
<path d="M831 357l3 5l3-5" stroke="#bbb" stroke-width="1" fill="none"/>
</svg>
<svg class="abs ch" style="left:126px;top:457px" width="357" height="212" viewBox="126 457 357 212">
<defs>
<linearGradient id="h3" x1="0" x2="1" y1="0" y2="0"><stop offset="0.0000" stop-color="#1fd0b8"/><stop offset="0.0345" stop-color="#20d0c0"/><stop offset="0.0690" stop-color="#1fccc8"/><stop offset="0.0977" stop-color="#20d4a8"/><stop offset="0.1207" stop-color="#24da50"/><stop offset="0.1437" stop-color="#34de22"/><stop offset="0.1667" stop-color="#68e01c"/><stop offset="0.1954" stop-color="#a8e418"/><stop offset="0.2471" stop-color="#cce616"/><stop offset="0.2989" stop-color="#a4e418"/><stop offset="0.3218" stop-color="#4cde20"/><stop offset="0.3362" stop-color="#22d880"/><stop offset="0.3563" stop-color="#1fd2b0"/><stop offset="0.3793" stop-color="#1fd0b8"/><stop offset="0.4023" stop-color="#22d888"/><stop offset="0.4253" stop-color="#30dc28"/><stop offset="0.4483" stop-color="#60e01c"/><stop offset="0.4713" stop-color="#b4e418"/><stop offset="0.5000" stop-color="#dce814"/><stop offset="0.5747" stop-color="#dce814"/><stop offset="0.6092" stop-color="#b4e418"/><stop offset="0.6379" stop-color="#5ce01c"/><stop offset="0.6609" stop-color="#40de1e"/><stop offset="0.6839" stop-color="#70e01a"/><stop offset="0.7126" stop-color="#cce616"/><stop offset="0.7586" stop-color="#ecd812"/><stop offset="0.8046" stop-color="#cce616"/><stop offset="0.8333" stop-color="#78e21a"/><stop offset="0.8678" stop-color="#34dc20"/><stop offset="0.9138" stop-color="#26da38"/><stop offset="0.9540" stop-color="#22d880"/><stop offset="1.0000" stop-color="#20d4b0"/></linearGradient>
<filter id="b3" x="-40%" y="-40%" width="180%" height="180%"><feGaussianBlur stdDeviation="5 5.5"/></filter>
<filter id="b3s" x="-40%" y="-40%" width="180%" height="180%"><feGaussianBlur stdDeviation="3 3.5"/></filter>
<clipPath id="c3"><rect x="126" y="457" width="348" height="212"/></clipPath>
</defs>
<rect x="126" y="457" width="348" height="212" fill="url(#h3)"/>
<g clip-path="url(#c3)">
<ellipse cx="212" cy="467" rx="22" ry="7" fill="#6ee01c" opacity="0.55" filter="url(#b3)"/>
<ellipse cx="313" cy="467" rx="34" ry="6" fill="#9ce41a" opacity="0.5" filter="url(#b3)"/>
<ellipse cx="212" cy="513.5" rx="22" ry="7" fill="#6ee01c" opacity="0.55" filter="url(#b3)"/>
<ellipse cx="313" cy="513.5" rx="34" ry="6" fill="#9ce41a" opacity="0.5" filter="url(#b3)"/>
<ellipse cx="212" cy="558.5" rx="22" ry="7" fill="#6ee01c" opacity="0.55" filter="url(#b3)"/>
<ellipse cx="313" cy="558.5" rx="34" ry="6" fill="#9ce41a" opacity="0.5" filter="url(#b3)"/>
<ellipse cx="212" cy="602.5" rx="22" ry="7" fill="#6ee01c" opacity="0.55" filter="url(#b3)"/>
<ellipse cx="313" cy="602.5" rx="34" ry="6" fill="#9ce41a" opacity="0.5" filter="url(#b3)"/>
<ellipse cx="212" cy="647" rx="22" ry="7" fill="#6ee01c" opacity="0.55" filter="url(#b3)"/>
<ellipse cx="313" cy="647" rx="34" ry="6" fill="#9ce41a" opacity="0.5" filter="url(#b3)"/>
<ellipse cx="212" cy="490" rx="23" ry="16" fill="#ecdc14" opacity="0.9" filter="url(#b3)"/>
<ellipse cx="212" cy="490" rx="12.5" ry="11" fill="#f0a010" opacity="0.95" filter="url(#b3s)"/>
<ellipse cx="313" cy="490" rx="32" ry="16" fill="#f0c810" opacity="0.92" filter="url(#b3)"/>
<ellipse cx="312" cy="490" rx="21" ry="11" fill="#f08e10" opacity="0.95" filter="url(#b3s)"/>
<ellipse cx="390" cy="490" rx="19" ry="18" fill="#f0b410" opacity="0.95" filter="url(#b3)"/>
<ellipse cx="390" cy="490" rx="9" ry="13" fill="#ea5412" opacity="0.95" filter="url(#b3s)"/>
<ellipse cx="212" cy="537" rx="23" ry="16" fill="#ecdc14" opacity="0.9" filter="url(#b3)"/>
<ellipse cx="212" cy="537" rx="12.5" ry="11" fill="#f0a010" opacity="0.95" filter="url(#b3s)"/>
<ellipse cx="313" cy="537" rx="32" ry="16" fill="#f0c810" opacity="0.92" filter="url(#b3)"/>
<ellipse cx="312" cy="537" rx="21" ry="11" fill="#f08e10" opacity="0.95" filter="url(#b3s)"/>
<ellipse cx="390" cy="537" rx="19" ry="18" fill="#f0b410" opacity="0.95" filter="url(#b3)"/>
<ellipse cx="390" cy="537" rx="9" ry="13" fill="#ea5412" opacity="0.95" filter="url(#b3s)"/>
<ellipse cx="212" cy="580" rx="23" ry="16" fill="#ecdc14" opacity="0.9" filter="url(#b3)"/>
<ellipse cx="212" cy="580" rx="12.5" ry="11" fill="#f0a010" opacity="0.95" filter="url(#b3s)"/>
<ellipse cx="313" cy="580" rx="32" ry="16" fill="#f0c810" opacity="0.92" filter="url(#b3)"/>
<ellipse cx="312" cy="580" rx="21" ry="11" fill="#f08e10" opacity="0.95" filter="url(#b3s)"/>
<ellipse cx="390" cy="580" rx="19" ry="18" fill="#f0b410" opacity="0.95" filter="url(#b3)"/>
<ellipse cx="390" cy="580" rx="9" ry="13" fill="#ea5412" opacity="0.95" filter="url(#b3s)"/>
<ellipse cx="212" cy="625" rx="23" ry="16" fill="#ecdc14" opacity="0.9" filter="url(#b3)"/>
<ellipse cx="212" cy="625" rx="12.5" ry="11" fill="#f0a010" opacity="0.95" filter="url(#b3s)"/>
<ellipse cx="313" cy="625" rx="32" ry="16" fill="#f0c810" opacity="0.92" filter="url(#b3)"/>
<ellipse cx="312" cy="625" rx="21" ry="11" fill="#f08e10" opacity="0.95" filter="url(#b3s)"/>
<ellipse cx="390" cy="625" rx="19" ry="18" fill="#f0b410" opacity="0.95" filter="url(#b3)"/>
<ellipse cx="390" cy="625" rx="9" ry="13" fill="#ea5412" opacity="0.95" filter="url(#b3s)"/>
<ellipse cx="212" cy="668" rx="23" ry="16" fill="#ecdc14" opacity="0.9" filter="url(#b3)"/>
<ellipse cx="212" cy="668" rx="12.5" ry="11" fill="#f0a010" opacity="0.95" filter="url(#b3s)"/>
<ellipse cx="313" cy="668" rx="32" ry="16" fill="#f0c810" opacity="0.92" filter="url(#b3)"/>
<ellipse cx="312" cy="668" rx="21" ry="11" fill="#f08e10" opacity="0.95" filter="url(#b3s)"/>
<ellipse cx="390" cy="668" rx="19" ry="18" fill="#f0b410" opacity="0.95" filter="url(#b3)"/>
<ellipse cx="390" cy="668" rx="9" ry="13" fill="#ea5412" opacity="0.95" filter="url(#b3s)"/>
<rect x="342.8" y="457" width="1" height="212" fill="#0c8c40" opacity="0.12"/>
<rect x="418.8" y="457" width="1.5" height="212" fill="#0c8c40" opacity="0.04"/>
<rect x="288" y="457" width="1.2" height="212" fill="#0a9a30" opacity="0.14"/>
<rect x="165.4" y="457" width="1.5" height="212" fill="#fff060" opacity="0.08"/>
<rect x="161.5" y="457" width="0.6" height="212" fill="#0a9a30" opacity="0.06"/>
<rect x="223.3" y="457" width="0.8" height="212" fill="#fff060" opacity="0.13"/>
<rect x="174.3" y="457" width="1" height="212" fill="#ffffff" opacity="0.05"/>
<rect x="464.4" y="457" width="0.8" height="212" fill="#ffffff" opacity="0.06"/>
<rect x="467.9" y="457" width="0.9" height="212" fill="#0a9a30" opacity="0.15"/>
<rect x="313.6" y="457" width="1.2" height="212" fill="#0c8c40" opacity="0.06"/>
<rect x="463.1" y="457" width="1.6" height="212" fill="#0a9a30" opacity="0.14"/>
<rect x="230" y="457" width="1" height="212" fill="#10b8c0" opacity="0.14"/>
<rect x="217.8" y="457" width="0.9" height="212" fill="#10b8c0" opacity="0.11"/>
<rect x="127.2" y="457" width="1.3" height="212" fill="#0c8c40" opacity="0.05"/>
<rect x="249.7" y="457" width="1.1" height="212" fill="#10b8c0" opacity="0.07"/>
<rect x="293.5" y="457" width="0.8" height="212" fill="#0c8c40" opacity="0.07"/>
<rect x="452.8" y="457" width="1" height="212" fill="#0c8c40" opacity="0.08"/>
<rect x="317.1" y="457" width="1" height="212" fill="#fff060" opacity="0.10"/>
<rect x="129.2" y="457" width="1.3" height="212" fill="#ffffff" opacity="0.11"/>
<rect x="458.1" y="457" width="1.4" height="212" fill="#ffffff" opacity="0.14"/>
<rect x="453.8" y="457" width="1.1" height="212" fill="#10b8c0" opacity="0.14"/>
<rect x="213.3" y="457" width="0.7" height="212" fill="#fff060" opacity="0.12"/>
<rect x="403.4" y="457" width="0.6" height="212" fill="#10b8c0" opacity="0.14"/>
<rect x="157.7" y="457" width="1.1" height="212" fill="#10b8c0" opacity="0.08"/>
<rect x="177.6" y="457" width="1.5" height="212" fill="#10b8c0" opacity="0.10"/>
<rect x="234.7" y="457" width="0.9" height="212" fill="#10b8c0" opacity="0.13"/>
<rect x="344.1" y="457" width="1.3" height="212" fill="#0c8c40" opacity="0.15"/>
<rect x="182.2" y="457" width="0.7" height="212" fill="#ffffff" opacity="0.11"/>
<rect x="447.4" y="457" width="0.8" height="212" fill="#ffffff" opacity="0.11"/>
<rect x="413.6" y="457" width="1.3" height="212" fill="#fff060" opacity="0.06"/>
<rect x="466.7" y="457" width="0.6" height="212" fill="#0c8c40" opacity="0.09"/>
<rect x="417.8" y="457" width="1.6" height="212" fill="#0a9a30" opacity="0.10"/>
<rect x="172.2" y="457" width="0.7" height="212" fill="#fff060" opacity="0.09"/>
<rect x="177.9" y="457" width="0.9" height="212" fill="#fff060" opacity="0.09"/>
<rect x="473.8" y="457" width="1.6" height="212" fill="#0a9a30" opacity="0.09"/>
<rect x="295.9" y="457" width="0.9" height="212" fill="#0c8c40" opacity="0.07"/>
<rect x="289.6" y="457" width="0.7" height="212" fill="#0a9a30" opacity="0.13"/>
<rect x="311" y="457" width="1.2" height="212" fill="#0a9a30" opacity="0.09"/>
<rect x="243.8" y="457" width="1.1" height="212" fill="#ffffff" opacity="0.10"/>
<rect x="316.7" y="457" width="1" height="212" fill="#ffffff" opacity="0.13"/>
<rect x="395.7" y="457" width="1.2" height="212" fill="#0c8c40" opacity="0.04"/>
<rect x="232.4" y="457" width="1.3" height="212" fill="#ffffff" opacity="0.07"/>
<rect x="295" y="457" width="1.3" height="212" fill="#0c8c40" opacity="0.15"/>
<rect x="244.3" y="457" width="1.2" height="212" fill="#0a9a30" opacity="0.04"/>
<rect x="316.4" y="457" width="0.9" height="212" fill="#10b8c0" opacity="0.07"/>
<rect x="226.5" y="457" width="1.2" height="212" fill="#ffffff" opacity="0.13"/>
<rect x="247.1" y="457" width="0.9" height="212" fill="#0c8c40" opacity="0.14"/>
<rect x="268.1" y="457" width="1.5" height="212" fill="#0a9a30" opacity="0.12"/>
<rect x="465.7" y="457" width="1.1" height="212" fill="#10b8c0" opacity="0.10"/>
<rect x="183.8" y="457" width="1.5" height="212" fill="#10b8c0" opacity="0.09"/>
<rect x="366.6" y="457" width="1.3" height="212" fill="#0c8c40" opacity="0.09"/>
<rect x="340.6" y="457" width="1.1" height="212" fill="#ffffff" opacity="0.14"/>
<rect x="231.3" y="457" width="1.4" height="212" fill="#ffffff" opacity="0.11"/>
<rect x="376.7" y="457" width="0.8" height="212" fill="#ffffff" opacity="0.10"/>
<rect x="343.2" y="457" width="0.8" height="212" fill="#0a9a30" opacity="0.12"/>
<rect x="345.5" y="457" width="1.6" height="212" fill="#ffffff" opacity="0.15"/>
<rect x="183.7" y="457" width="0.7" height="212" fill="#0a9a30" opacity="0.15"/>
<rect x="294" y="457" width="0.6" height="212" fill="#ffffff" opacity="0.09"/>
<rect x="258.3" y="457" width="0.7" height="212" fill="#ffffff" opacity="0.06"/>
<rect x="375.9" y="457" width="0.6" height="212" fill="#10b8c0" opacity="0.08"/>
<rect x="222.9" y="457" width="1.5" height="212" fill="#fff060" opacity="0.12"/>
<rect x="316.4" y="457" width="1.1" height="212" fill="#ffffff" opacity="0.07"/>
<rect x="228.8" y="457" width="0.9" height="212" fill="#ffffff" opacity="0.10"/>
<rect x="459.5" y="457" width="1" height="212" fill="#0a9a30" opacity="0.13"/>
<rect x="349.5" y="457" width="1.1" height="212" fill="#10b8c0" opacity="0.06"/>
<rect x="259.2" y="457" width="1.6" height="212" fill="#fff060" opacity="0.15"/>
<rect x="337.8" y="457" width="1.4" height="212" fill="#10b8c0" opacity="0.11"/>
<rect x="258.9" y="457" width="1.2" height="212" fill="#10b8c0" opacity="0.11"/>
<rect x="175" y="457" width="1.5" height="212" fill="#0c8c40" opacity="0.10"/>
<rect x="275.4" y="457" width="1.1" height="212" fill="#0a9a30" opacity="0.09"/>
<rect x="372.5" y="457" width="1.6" height="212" fill="#fff060" opacity="0.14"/>
<rect x="333.3" y="457" width="1.3" height="212" fill="#10b8c0" opacity="0.07"/>
<rect x="213.4" y="457" width="0.9" height="212" fill="#ffffff" opacity="0.15"/>
<rect x="297.1" y="457" width="0.7" height="212" fill="#10b8c0" opacity="0.04"/>
<rect x="355.7" y="457" width="0.8" height="212" fill="#fff060" opacity="0.04"/>
<rect x="173.5" y="457" width="0.6" height="212" fill="#fff060" opacity="0.10"/>
<rect x="221.3" y="457" width="1.4" height="212" fill="#fff060" opacity="0.07"/>
<rect x="219.2" y="457" width="1.3" height="212" fill="#0a9a30" opacity="0.07"/>
<rect x="297.3" y="457" width="1.1" height="212" fill="#fff060" opacity="0.13"/>
<rect x="432.5" y="457" width="0.6" height="212" fill="#ffffff" opacity="0.05"/>
<rect x="224.3" y="457" width="0.9" height="212" fill="#0c8c40" opacity="0.07"/>
<rect x="310.4" y="457" width="0.9" height="212" fill="#fff060" opacity="0.11"/>
<rect x="408.8" y="457" width="0.6" height="212" fill="#0a9a30" opacity="0.07"/>
<rect x="284.6" y="457" width="1.5" height="212" fill="#ffffff" opacity="0.10"/>
<rect x="131.1" y="457" width="1.2" height="212" fill="#fff060" opacity="0.12"/>
<rect x="457.7" y="457" width="1.1" height="212" fill="#0c8c40" opacity="0.14"/>
<rect x="260.1" y="457" width="1.3" height="212" fill="#fff060" opacity="0.12"/>
<rect x="438.8" y="457" width="1.4" height="212" fill="#fff060" opacity="0.05"/>
<rect x="417" y="457" width="1.4" height="212" fill="#0c8c40" opacity="0.10"/>
<rect x="351.6" y="457" width="1.5" height="212" fill="#fff060" opacity="0.06"/>
<rect x="292.5" y="457" width="1.5" height="212" fill="#ffffff" opacity="0.15"/>
<rect x="313.2" y="457" width="1.2" height="212" fill="#fff060" opacity="0.13"/>
<rect x="149.8" y="457" width="0.9" height="212" fill="#0a9a30" opacity="0.05"/>
<rect x="147.9" y="457" width="0.9" height="212" fill="#ffffff" opacity="0.09"/>
<rect x="149.9" y="457" width="1.3" height="212" fill="#fff060" opacity="0.05"/>
<rect x="419" y="457" width="1.2" height="212" fill="#0a9a30" opacity="0.13"/>
<rect x="164.7" y="457" width="1.6" height="212" fill="#0a9a30" opacity="0.12"/>
<rect x="278.4" y="457" width="1.2" height="212" fill="#0a9a30" opacity="0.09"/>
<rect x="182.1" y="457" width="0.8" height="212" fill="#ffffff" opacity="0.10"/>
<rect x="355.8" y="457" width="0.7" height="212" fill="#0c8c40" opacity="0.05"/>
<rect x="326.2" y="457" width="1" height="212" fill="#0c8c40" opacity="0.11"/>
<rect x="129.5" y="457" width="0.9" height="212" fill="#ffffff" opacity="0.11"/>
<rect x="296.4" y="457" width="1" height="212" fill="#0c8c40" opacity="0.05"/>
<rect x="368.7" y="457" width="1.2" height="212" fill="#0a9a30" opacity="0.11"/>
<rect x="227" y="457" width="1.1" height="212" fill="#ffffff" opacity="0.06"/>
<rect x="148" y="457" width="0.9" height="212" fill="#0a9a30" opacity="0.12"/>
<rect x="305.9" y="457" width="1.4" height="212" fill="#0a9a30" opacity="0.13"/>
<rect x="283.8" y="457" width="0.8" height="212" fill="#fff060" opacity="0.12"/>
<rect x="353.9" y="457" width="1.2" height="212" fill="#ffffff" opacity="0.04"/>
<rect x="426.5" y="457" width="1.2" height="212" fill="#ffffff" opacity="0.07"/>
<rect x="431.2" y="457" width="1.6" height="212" fill="#fff060" opacity="0.05"/>
<rect x="310.7" y="457" width="1.3" height="212" fill="#ffffff" opacity="0.05"/>
<rect x="178.5" y="457" width="1.3" height="212" fill="#fff060" opacity="0.06"/>
<rect x="166.4" y="457" width="1.1" height="212" fill="#0c8c40" opacity="0.06"/>
<rect x="370.1" y="457" width="1" height="212" fill="#fff060" opacity="0.07"/>
<rect x="242" y="457" width="1.3" height="212" fill="#ffffff" opacity="0.13"/>
<rect x="257.6" y="457" width="1.4" height="212" fill="#0c8c40" opacity="0.11"/>
<rect x="406" y="457" width="1.6" height="212" fill="#fff060" opacity="0.08"/>
<rect x="138.7" y="457" width="0.8" height="212" fill="#ffffff" opacity="0.06"/>
<rect x="148" y="457" width="0.6" height="212" fill="#ffffff" opacity="0.06"/>
<rect x="139.7" y="457" width="1.3" height="212" fill="#fff060" opacity="0.08"/>
<rect x="274.6" y="457" width="1.5" height="212" fill="#10b8c0" opacity="0.11"/>
<rect x="275.2" y="457" width="1.1" height="212" fill="#fff060" opacity="0.06"/>
<rect x="353.4" y="457" width="1" height="212" fill="#ffffff" opacity="0.08"/>
<rect x="432.4" y="457" width="1.2" height="212" fill="#0a9a30" opacity="0.05"/>
<rect x="410.8" y="457" width="1.3" height="212" fill="#10b8c0" opacity="0.04"/>
<rect x="437.9" y="457" width="1.5" height="212" fill="#10b8c0" opacity="0.08"/>
<rect x="452.4" y="457" width="0.6" height="212" fill="#0c8c40" opacity="0.09"/>
<rect x="421.4" y="457" width="0.7" height="212" fill="#0a9a30" opacity="0.11"/>
<rect x="227.3" y="457" width="0.8" height="212" fill="#0c8c40" opacity="0.15"/>
<rect x="137.7" y="457" width="0.6" height="212" fill="#0c8c40" opacity="0.07"/>
<rect x="153.2" y="457" width="1.5" height="212" fill="#fff060" opacity="0.12"/>
<rect x="362.8" y="457" width="1.1" height="212" fill="#0a9a30" opacity="0.07"/>
<rect x="380.9" y="457" width="1.1" height="212" fill="#0c8c40" opacity="0.13"/>
<rect x="187.1" y="457" width="1.5" height="212" fill="#0a9a30" opacity="0.11"/>
<rect x="275.9" y="457" width="0.6" height="212" fill="#10b8c0" opacity="0.05"/>
<rect x="397.2" y="457" width="0.8" height="212" fill="#fff060" opacity="0.04"/>
<rect x="416.8" y="457" width="1.2" height="212" fill="#ffffff" opacity="0.14"/>
<rect x="375.4" y="457" width="1.5" height="212" fill="#0a9a30" opacity="0.09"/>
<rect x="451.6" y="457" width="1.3" height="212" fill="#ffffff" opacity="0.11"/>
<rect x="299.1" y="457" width="0.6" height="212" fill="#ffffff" opacity="0.13"/>
<rect x="281.2" y="457" width="0.7" height="212" fill="#0c8c40" opacity="0.04"/>
<rect x="464.1" y="457" width="1.3" height="212" fill="#0a9a30" opacity="0.11"/>
<rect x="191.4" y="457" width="0.7" height="212" fill="#0a9a30" opacity="0.07"/>
<rect x="163.6" y="457" width="1.6" height="212" fill="#ffffff" opacity="0.06"/>
<rect x="152.2" y="457" width="0.8" height="212" fill="#0c8c40" opacity="0.04"/>
<rect x="313.8" y="457" width="1" height="212" fill="#fff060" opacity="0.12"/>
<rect x="307.8" y="457" width="1.3" height="212" fill="#0a9a30" opacity="0.14"/>
<rect x="233" y="457" width="1.5" height="212" fill="#fff060" opacity="0.15"/>
<rect x="319" y="457" width="0.9" height="212" fill="#0a9a30" opacity="0.05"/>
<rect x="155.5" y="457" width="1.2" height="212" fill="#0a6a60" opacity="0.55"/>
<rect x="152" y="590" width="4" height="50" fill="#10a0d0" opacity="0.5" filter="url(#b3s)"/>
<rect x="247" y="457" width="1.2" height="212" fill="#0a7a70" opacity="0.4"/>
</g>
<path d="M126 586.8H476" stroke="#8e8e6c" stroke-width="1.2"/>
<rect x="126.75" y="457.75" width="346.5" height="210.5" fill="none" stroke="#1c5a30" stroke-width="1.6"/>
<rect x="473.5" y="458" width="8.5" height="211" fill="#0a0ad0"/>
<rect x="449" y="560.5" width="19" height="11" fill="#1c6a34"/>
<text x="458.5" y="569.5" font-family="Liberation Sans, sans-serif" font-size="9" fill="#f4f4f4" text-anchor="middle">MR</text>
<path d="M457 573.5 L464 580.5 L457 587.5 L450 580.5Z" fill="#fff"/>
<rect x="136.5" y="647" width="7.5" height="13" fill="#145a2a"/><rect x="139" y="649.5" width="2.5" height="4" fill="#9fe090"/>
<path d="M298 661l3 5l3-5" stroke="#d8e8b0" stroke-width="1" fill="none" opacity="0.8"/>
</svg>
<svg class="abs ch" style="left:658px;top:461px" width="353" height="200" viewBox="658 461 353 200">
<defs>
<filter id="b4" x="-10%" y="-10%" width="120%" height="120%"><feGaussianBlur stdDeviation="2"/></filter>
<filter id="b4a" x="-10%" y="-10%" width="120%" height="120%"><feGaussianBlur stdDeviation="1.2"/></filter>
<filter id="b4b" x="-10%" y="-10%" width="120%" height="120%"><feGaussianBlur stdDeviation="6"/></filter>
<filter id="b4c" x="-10%" y="-10%" width="120%" height="120%"><feGaussianBlur stdDeviation="9"/></filter>
<clipPath id="c4"><rect x="658" y="461" width="353" height="200"/></clipPath>
<clipPath id="c4e"><path d="M638 564 L658 564 L670 564 L680 567 L688 575 L696 566 L706 552 L718 536 L730 521 L742 510 L748 514 L756 528 L764 546 L772 563 L778 570 L784 565 L790 562 L796 557 L806 542 L816 526 L826 514 L835 509 L848 507 L860 508 L870 514 L880 521 L890 528 L900 532 L908 525 L918 515 L927 508 L935 514 L945 524 L958 536 L970 545 L985 554 L1000 560 L1011 563 L1031 563 L1031 681 L638 681Z"/></clipPath>
</defs>
<rect x="658" y="461" width="353" height="200" fill="#020202"/>
<path d="M693.3 461V661M728.6 461V661M763.9 461V661M799.2 461V661M834.5 461V661M869.8 461V661M905.1 461V661M940.4 461V661M975.7 461V661M658 464H1011M658 483.6H1011M658 503.1H1011M658 522.6H1011M658 542.2H1011M658 561.8H1011M658 581.3H1011M658 600.9H1011M658 620.4H1011M658 640H1011" stroke="#787878" stroke-width="1" fill="none"/>
<g clip-path="url(#c4)">
<path d="M638 551 L658 551 L670 551 L680 554 L688 562 L696 553 L706 539 L718 523 L730 508 L742 497 L748 501 L756 515 L764 533 L772 550 L778 557 L784 552 L790 549 L796 544 L806 529 L816 513 L826 501 L835 496 L848 494 L860 495 L870 501 L880 508 L890 515 L900 519 L908 512 L918 502 L927 495 L935 501 L945 511 L958 523 L970 532 L985 541 L1000 547 L1011 550 L1031 550 L1031 681 L638 681Z" fill="#0a18c4" filter="url(#b4)"/>
<path d="M638 556.5 L658 556.5 L670 556.5 L680 559.5 L688 567.5 L696 558.5 L706 544.5 L718 528.5 L730 513.5 L742 502.5 L748 506.5 L756 520.5 L764 538.5 L772 555.5 L778 562.5 L784 557.5 L790 554.5 L796 549.5 L806 534.5 L816 518.5 L826 506.5 L835 501.5 L848 499.5 L860 500.5 L870 506.5 L880 513.5 L890 520.5 L900 524.5 L908 517.5 L918 507.5 L927 500.5 L935 506.5 L945 516.5 L958 528.5 L970 537.5 L985 546.5 L1000 552.5 L1011 555.5 L1031 555.5 L1031 681 L638 681Z" fill="#1090e8" filter="url(#b4)"/>
<path d="M638 561.5 L658 561.5 L670 561.5 L680 564.5 L688 572.5 L696 563.5 L706 549.5 L718 533.5 L730 518.5 L742 507.5 L748 511.5 L756 525.5 L764 543.5 L772 560.5 L778 567.5 L784 562.5 L790 559.5 L796 554.5 L806 539.5 L816 523.5 L826 511.5 L835 506.5 L848 504.5 L860 505.5 L870 511.5 L880 518.5 L890 525.5 L900 529.5 L908 522.5 L918 512.5 L927 505.5 L935 511.5 L945 521.5 L958 533.5 L970 542.5 L985 551.5 L1000 557.5 L1011 560.5 L1031 560.5 L1031 681 L638 681Z" fill="#18dcc8" filter="url(#b4a)"/>
<g filter="url(#b4a)"><g clip-path="url(#c4e)">
<rect x="638" y="461" width="393" height="220" fill="#0e54d8"/>
<path d="M638 540 L658 540 L670 540 L680 543 L688 551 L696 542 L706 528 L718 512 L730 497 L742 486 L748 490 L756 504 L764 522 L772 539 L778 546 L784 541 L790 538 L796 533 L806 518 L816 502 L826 490 L835 485 L848 483 L860 484 L870 490 L880 497 L890 504 L900 508 L908 501 L918 491 L927 484 L935 490 L945 500 L958 512 L970 521 L985 530 L1000 536 L1011 539 L1031 539 L1040 640 L1011 640 L990 639 L960 638 L930 638 L900 639 L870 636 L840 637 L815 642 L798 652 L788 672 L780 690 L774 690 L767 672 L758 656 L745 650 L720 652 L690 658 L658 662 L630 664Z" fill="#10a0ec" filter="url(#b4b)"/>
<path d="M638 540 L658 540 L670 540 L680 543 L688 551 L696 542 L706 528 L718 512 L730 497 L742 486 L748 490 L756 504 L764 522 L772 539 L778 546 L784 541 L790 538 L796 533 L806 518 L816 502 L826 490 L835 485 L848 483 L860 484 L870 490 L880 497 L890 504 L900 508 L908 501 L918 491 L927 484 L935 490 L945 500 L958 512 L970 521 L985 530 L1000 536 L1011 539 L1031 539 L1040 626 L1011 626 L990 625 L960 624 L930 624 L900 625 L870 622 L840 623 L815 628 L798 638 L788 658 L780 676 L774 676 L767 658 L758 642 L745 636 L720 638 L690 644 L658 648 L630 650Z" fill="#14d8d8" filter="url(#b4b)"/>
<path d="M638 540 L658 540 L670 540 L680 543 L688 551 L696 542 L706 528 L718 512 L730 497 L742 486 L748 490 L756 504 L764 522 L772 539 L778 546 L784 541 L790 538 L796 533 L806 518 L816 502 L826 490 L835 485 L848 483 L860 484 L870 490 L880 497 L890 504 L900 508 L908 501 L918 491 L927 484 L935 490 L945 500 L958 512 L970 521 L985 530 L1000 536 L1011 539 L1031 539 L1040 612 L1011 612 L990 611 L960 610 L930 610 L900 611 L870 608 L840 609 L815 614 L798 624 L788 644 L780 662 L774 662 L767 644 L758 628 L745 622 L720 624 L690 630 L658 634 L630 636Z" fill="#18de60" filter="url(#b4b)"/>
<path d="M638 540 L658 540 L670 540 L680 543 L688 551 L696 542 L706 528 L718 512 L730 497 L742 486 L748 490 L756 504 L764 522 L772 539 L778 546 L784 541 L790 538 L796 533 L806 518 L816 502 L826 490 L835 485 L848 483 L860 484 L870 490 L880 497 L890 504 L900 508 L908 501 L918 491 L927 484 L935 490 L945 500 L958 512 L970 521 L985 530 L1000 536 L1011 539 L1031 539 L1040 602 L1011 602 L990 601 L960 600 L930 600 L900 601 L870 598 L840 599 L815 604 L798 614 L788 634 L780 652 L774 652 L767 634 L758 618 L745 612 L720 614 L690 620 L658 624 L630 626Z" fill="#16dc14" filter="url(#b4b)"/>
<path d="M638 598 L658 594 L670 594 L680 597 L688 605 L696 596 L706 582 L718 566 L730 551 L742 540 L748 544 L756 558 L764 576 L772 593 L778 600 L784 595 L790 592 L796 587 L806 572 L816 556 L826 544 L835 539 L848 537 L860 538 L870 544 L880 551 L890 558 L900 562 L908 555 L918 545 L927 538 L935 544 L945 554 L958 566 L970 575 L985 584 L1000 590 L1011 593 L1031 590 L1031 610 L1011 604 L1000 604 L985 604 L970 604 L958 596 L945 584 L935 574 L927 568 L918 575 L908 585 L900 592 L890 588 L880 581 L870 574 L860 568 L848 567 L835 569 L826 574 L816 586 L806 602 L796 604 L790 604 L784 604 L778 604 L772 604 L764 604 L756 588 L748 574 L742 570 L730 581 L718 596 L706 604 L696 604 L688 604 L680 604 L670 604 L658 604 L638 615Z" fill="#64e010" opacity="0.7" filter="url(#b4c)"/>
<ellipse cx="1016" cy="652" rx="34" ry="20" fill="#18d4e0" opacity="0.85" filter="url(#b4c)"/>
<ellipse cx="655" cy="662" rx="26" ry="10" fill="#1878e0" opacity="0.7" filter="url(#b4c)"/>
</g></g>
<path d="M693.3 560V661M728.6 560V661M763.9 560V661M799.2 560V661M834.5 560V661M869.8 560V661M905.1 560V661M940.4 560V661M975.7 560V661" stroke="#70f0b0" stroke-width="1" fill="none" opacity="0.22"/>
</g>
<rect x="668" y="640" width="8" height="13" fill="#0c3a4a"/><rect x="670.5" y="642.5" width="3" height="4" fill="#d8c860"/>
<path d="M831 652l3 5.5l3-5.5" stroke="#c0e0f0" stroke-width="1.1" fill="none" opacity="0.9"/>
</svg>

<!-- y tick labels -->
<div class="yl" style="left:85.8px;top:141px;width:40px;clip-path:inset(6.3px 0 0px 0)">89.8</div><div class="yl" style="left:131.7px;top:140.5px;width:6px;text-align:left;clip-path:inset(6.3px 0 0px 0)">-</div>
<div class="yl" style="left:85.8px;top:183.7px;width:40px">84.9</div><div class="yl" style="left:131.7px;top:183.2px;width:6px;text-align:left">-</div>
<div class="yl" style="left:85.8px;top:227.8px;width:40px">80.0</div><div class="yl" style="left:131.7px;top:227.3px;width:6px;text-align:left">-</div>
<div class="yl" style="left:85.8px;top:271.5px;width:40px">75.0</div><div class="yl" style="left:131.7px;top:271px;width:6px;text-align:left">-</div>
<div class="yl" style="left:85.8px;top:315.5px;width:40px">70.1</div><div class="yl" style="left:131.7px;top:315px;width:6px;text-align:left">-</div>
<div class="yl" style="left:85.8px;top:358.5px;width:40px;clip-path:inset(0px 0 12.2px 0)">65.2</div><div class="yl" style="left:131.7px;top:358px;width:6px;text-align:left;clip-path:inset(0px 0 12.2px 0)">-</div>
<div class="yl" style="left:598.2px;top:153.5px;width:40px">50.0</div><div class="yl" style="left:644.7px;top:153px;width:6px;text-align:left">-</div>
<div class="yl" style="left:598.2px;top:174.5px;width:40px">45.0</div><div class="yl" style="left:644.7px;top:174px;width:6px;text-align:left">-</div>
<div class="yl" style="left:598.2px;top:195px;width:40px">40.0</div><div class="yl" style="left:644.7px;top:194.5px;width:6px;text-align:left">-</div>
<div class="yl" style="left:598.2px;top:216px;width:40px">35.0</div><div class="yl" style="left:644.7px;top:215.5px;width:6px;text-align:left">-</div>
<div class="yl" style="left:598.2px;top:236.5px;width:40px">30.0</div><div class="yl" style="left:644.7px;top:236px;width:6px;text-align:left">-</div>
<div class="yl" style="left:598.2px;top:257px;width:40px">25.0</div><div class="yl" style="left:644.7px;top:256.5px;width:6px;text-align:left">-</div>
<div class="yl" style="left:598.2px;top:278px;width:40px">20.0</div><div class="yl" style="left:644.7px;top:277.5px;width:6px;text-align:left">-</div>
<div class="yl" style="left:598.2px;top:299px;width:40px">15.0</div><div class="yl" style="left:644.7px;top:298.5px;width:6px;text-align:left">-</div>
<div class="yl" style="left:598.2px;top:319.5px;width:40px">10.0</div><div class="yl" style="left:644.7px;top:319px;width:6px;text-align:left">-</div>
<div class="yl" style="left:598.2px;top:340.5px;width:40px">5.0</div><div class="yl" style="left:644.7px;top:340px;width:6px;text-align:left">-</div>
<div class="yl" style="left:598.2px;top:361px;width:40px;clip-path:inset(0px 0 10.5px 0)">0.0</div><div class="yl" style="left:644.7px;top:360.5px;width:6px;text-align:left;clip-path:inset(0px 0 10.5px 0)">-</div>
<div class="yl" style="left:604.3px;top:456.5px;width:40px">50.0</div><div class="yl" style="left:650.1px;top:456px;width:6px;text-align:left">-</div>
<div class="yl" style="left:604.3px;top:476px;width:40px">45.0</div><div class="yl" style="left:650.1px;top:475.5px;width:6px;text-align:left">-</div>
<div class="yl" style="left:604.3px;top:495.5px;width:40px">40.0</div><div class="yl" style="left:650.1px;top:495px;width:6px;text-align:left">-</div>
<div class="yl" style="left:604.3px;top:515px;width:40px">35.0</div><div class="yl" style="left:650.1px;top:514.5px;width:6px;text-align:left">-</div>
<div class="yl" style="left:604.3px;top:534.5px;width:40px">30.0</div><div class="yl" style="left:650.1px;top:534px;width:6px;text-align:left">-</div>
<div class="yl" style="left:604.3px;top:554.5px;width:40px">25.0</div><div class="yl" style="left:650.1px;top:554px;width:6px;text-align:left">-</div>
<div class="yl" style="left:604.3px;top:574px;width:40px">20.0</div><div class="yl" style="left:650.1px;top:573.5px;width:6px;text-align:left">-</div>
<div class="yl" style="left:604.3px;top:593px;width:40px">15.0</div><div class="yl" style="left:650.1px;top:592.5px;width:6px;text-align:left">-</div>
<div class="yl" style="left:604.3px;top:612.5px;width:40px">10.0</div><div class="yl" style="left:650.1px;top:612px;width:6px;text-align:left">-</div>
<div class="yl" style="left:604.3px;top:632px;width:40px">5.0</div><div class="yl" style="left:650.1px;top:631.5px;width:6px;text-align:left">-</div>
<div class="yl" style="left:604.3px;top:651.5px;width:40px">0.0</div><div class="yl" style="left:650.1px;top:651px;width:6px;text-align:left">-</div>

<!-- toolbar bits chart 2 -->
<div class="tb" style="left:607px;top:146.8px;width:412px;height:13.5px">
<span style="left:4.2px;top:0.4px;width:0;height:0;border-left:2.2px solid transparent;border-right:2.2px solid transparent;border-top:3px solid #555"></span>
<span style="left:18.5px;top:-6.1px">Trace 1</span>
<span style="left:109px;top:-5px;width:12px;height:11px;border:1px solid #7aa6d8;background:#e4eef8;box-sizing:border-box"></span>
<span style="left:127.5px;top:-6.1px">Show</span>
<span style="left:170.5px;top:-6.1px">+Peak Max</span>
<span style="left:376px;top:-4px;width:37px;height:14.5px;border:1px solid #a4aeb6;background:linear-gradient(180deg,#f0f2f4,#d8e0e6);border-radius:3px;box-sizing:border-box"></span>
<span style="left:384.8px;top:-6.3px;font-size:10.6px">Clear</span>
</div>

<svg class="abs" style="left:0;top:0" width="1024" height="727" viewBox="0 0 1024 727">
<g font-family="'Liberation Sans','IPAGothic','Noto Sans CJK JP',sans-serif" font-size="44" fill="#0a0a0a" stroke="#0a0a0a" stroke-width="0.7" stroke-linejoin="round">
<text transform="matrix(1 0 0 0.958 0 45.55)"><tspan x="38.467" textLength="29.867" lengthAdjust="spacingAndGlyphs">「</tspan><tspan x="78.696" textLength="42.286" lengthAdjust="spacingAndGlyphs">電</tspan><tspan x="120.75" textLength="47.2" lengthAdjust="spacingAndGlyphs">子</tspan><tspan x="165.879" textLength="45.241" lengthAdjust="spacingAndGlyphs">基</tspan><tspan x="210.559" textLength="46.102" lengthAdjust="spacingAndGlyphs">板</tspan><tspan x="257.966" textLength="43.39" lengthAdjust="spacingAndGlyphs">近</tspan><tspan x="304.127" textLength="43.932" lengthAdjust="spacingAndGlyphs">傍</tspan><tspan x="341.303" textLength="56.421" lengthAdjust="spacingAndGlyphs">ノ</tspan><tspan x="384.833" textLength="47.238" lengthAdjust="spacingAndGlyphs">イ</tspan><tspan x="418.65" textLength="46.4" lengthAdjust="spacingAndGlyphs">ズ</tspan><tspan x="463.556" textLength="44.089" lengthAdjust="spacingAndGlyphs">」</tspan><tspan x="485.811" textLength="44.679" lengthAdjust="spacingAndGlyphs">の</tspan><tspan x="533.791" textLength="40.717" lengthAdjust="spacingAndGlyphs">計</tspan><tspan x="577.618" textLength="42.286" lengthAdjust="spacingAndGlyphs">測</tspan><tspan x="623.702" textLength="41.544" lengthAdjust="spacingAndGlyphs">例</tspan></text>
</g>
<g font-family="'Noto Sans CJK JP',sans-serif" font-weight="900" font-size="36" fill="#000">
<text transform="matrix(1 0 0 0.941 0 137.097)"><tspan x="119.9" textLength="34.641" lengthAdjust="spacingAndGlyphs">信</tspan><tspan x="156.134" textLength="35.531" lengthAdjust="spacingAndGlyphs">号</tspan><tspan x="189.615" textLength="27.077" lengthAdjust="spacingAndGlyphs" font-weight="700">ﾚ</tspan><tspan x="216" textLength="25" lengthAdjust="spacingAndGlyphs" font-weight="700">ﾍ</tspan><tspan x="240.5" textLength="16" lengthAdjust="spacingAndGlyphs" font-weight="700">ﾞ</tspan><tspan x="253.5" textLength="23.5" lengthAdjust="spacingAndGlyphs" font-weight="700">ﾙ</tspan><tspan x="277.422" textLength="33.655" lengthAdjust="spacingAndGlyphs">の</tspan><tspan x="311.365" textLength="34.88" lengthAdjust="spacingAndGlyphs">時</tspan><tspan x="346.786" textLength="35.429" lengthAdjust="spacingAndGlyphs">間</tspan><tspan x="383.054" textLength="34.946" lengthAdjust="spacingAndGlyphs">変</tspan><tspan x="421" textLength="31.492" lengthAdjust="spacingAndGlyphs">化</tspan></text>
<text transform="matrix(1 0 0 0.952 0 137.752)"><tspan x="530.431" textLength="36.414" lengthAdjust="spacingAndGlyphs">周</tspan><tspan x="568.268" textLength="34.064" lengthAdjust="spacingAndGlyphs">波</tspan><tspan x="603" textLength="34" lengthAdjust="spacingAndGlyphs">数</tspan><tspan x="637.587" textLength="26.027" lengthAdjust="spacingAndGlyphs" font-weight="700">ｽ</tspan><tspan x="664" textLength="24.5" lengthAdjust="spacingAndGlyphs" font-weight="700">ﾍ</tspan><tspan x="687.979" textLength="16.686" lengthAdjust="spacingAndGlyphs" font-weight="700">ﾟ</tspan><tspan x="696.429" textLength="25.143" lengthAdjust="spacingAndGlyphs" font-weight="700">ｸ</tspan><tspan x="718.66" textLength="20.96" lengthAdjust="spacingAndGlyphs" font-weight="700">ﾄ</tspan><tspan x="736.212" textLength="27.904" lengthAdjust="spacingAndGlyphs" font-weight="700">ﾗ</tspan><tspan x="761.857" textLength="26.987" lengthAdjust="spacingAndGlyphs" font-weight="700">ﾑ</tspan><tspan x="787.828" textLength="33.545" lengthAdjust="spacingAndGlyphs">の</tspan><tspan x="820.035" textLength="22.817" lengthAdjust="spacingAndGlyphs" font-weight="700">ﾋ</tspan><tspan x="839.357" textLength="20.571" lengthAdjust="spacingAndGlyphs" font-weight="700">ﾟ</tspan><tspan x="847.289" textLength="28.918" lengthAdjust="spacingAndGlyphs" font-weight="700">ｰ</tspan><tspan x="873.979" textLength="27.543" lengthAdjust="spacingAndGlyphs" font-weight="700">ｸ</tspan><tspan x="898.96" textLength="26.88" lengthAdjust="spacingAndGlyphs" font-weight="700">ﾎ</tspan><tspan x="922.444" textLength="27.259" lengthAdjust="spacingAndGlyphs" font-weight="700">ｰ</tspan><tspan x="949" textLength="24.5" lengthAdjust="spacingAndGlyphs" font-weight="700">ﾙ</tspan><tspan x="970.4" textLength="22.4" lengthAdjust="spacingAndGlyphs" font-weight="700">ﾄ</tspan><tspan x="990.556" textLength="14.222" lengthAdjust="spacingAndGlyphs" font-weight="700">ﾞ</tspan></text>
<text transform="matrix(1 0 0 0.92 0 442.976)"><tspan x="27.331" textLength="36.414" lengthAdjust="spacingAndGlyphs">周</tspan><tspan x="65.168" textLength="34.064" lengthAdjust="spacingAndGlyphs">波</tspan><tspan x="99.9" textLength="34" lengthAdjust="spacingAndGlyphs">数</tspan><tspan x="134.487" textLength="26.027" lengthAdjust="spacingAndGlyphs" font-weight="700">ｽ</tspan><tspan x="160.9" textLength="24.5" lengthAdjust="spacingAndGlyphs" font-weight="700">ﾍ</tspan><tspan x="184.879" textLength="16.686" lengthAdjust="spacingAndGlyphs" font-weight="700">ﾟ</tspan><tspan x="193.329" textLength="25.143" lengthAdjust="spacingAndGlyphs" font-weight="700">ｸ</tspan><tspan x="215.56" textLength="20.96" lengthAdjust="spacingAndGlyphs" font-weight="700">ﾄ</tspan><tspan x="233.112" textLength="27.904" lengthAdjust="spacingAndGlyphs" font-weight="700">ﾗ</tspan><tspan x="258.757" textLength="26.987" lengthAdjust="spacingAndGlyphs" font-weight="700">ﾑ</tspan><tspan x="285.229" textLength="35.641" lengthAdjust="spacingAndGlyphs">の</tspan><tspan x="323.065" textLength="34.88" lengthAdjust="spacingAndGlyphs">時</tspan><tspan x="358.486" textLength="35.429" lengthAdjust="spacingAndGlyphs">間</tspan><tspan x="394.754" textLength="34.946" lengthAdjust="spacingAndGlyphs">変</tspan><tspan x="432.7" textLength="31.492" lengthAdjust="spacingAndGlyphs">化</tspan></text>
<text transform="matrix(1 0 0 0.969 0 447.984)"><tspan x="546.731" textLength="36.414" lengthAdjust="spacingAndGlyphs">周</tspan><tspan x="584.568" textLength="34.064" lengthAdjust="spacingAndGlyphs">波</tspan><tspan x="619.3" textLength="34" lengthAdjust="spacingAndGlyphs">数</tspan><tspan x="653.887" textLength="26.027" lengthAdjust="spacingAndGlyphs" font-weight="700">ｽ</tspan><tspan x="680.3" textLength="24.5" lengthAdjust="spacingAndGlyphs" font-weight="700">ﾍ</tspan><tspan x="704.279" textLength="16.686" lengthAdjust="spacingAndGlyphs" font-weight="700">ﾟ</tspan><tspan x="712.729" textLength="25.143" lengthAdjust="spacingAndGlyphs" font-weight="700">ｸ</tspan><tspan x="734.96" textLength="20.96" lengthAdjust="spacingAndGlyphs" font-weight="700">ﾄ</tspan><tspan x="752.512" textLength="27.904" lengthAdjust="spacingAndGlyphs" font-weight="700">ﾗ</tspan><tspan x="778.157" textLength="26.987" lengthAdjust="spacingAndGlyphs" font-weight="700">ﾑ</tspan><tspan x="805.291" textLength="34.317" lengthAdjust="spacingAndGlyphs">の</tspan><tspan x="839.134" textLength="36.232" lengthAdjust="spacingAndGlyphs">密</tspan><tspan x="876" textLength="34.54" lengthAdjust="spacingAndGlyphs">度</tspan><tspan x="912.3" textLength="34" lengthAdjust="spacingAndGlyphs">分</tspan><tspan x="949.8" textLength="32.723" lengthAdjust="spacingAndGlyphs">布</tspan></text>
</g>
<g font-family="'Liberation Sans',sans-serif" font-weight="700" font-size="40" fill="#000">
<text transform="matrix(0.8 0 0 0.967 343 399.396)">time</text>
<text transform="matrix(0.851 0 0 0.86 865.868 400.272)">freq</text>
<text transform="matrix(0.862 0 0 0.876 340.061 711.334)">freq</text>
<text transform="matrix(0.863 0 0 0.866 874.26 700.726)">freq</text>
<text transform="matrix(0 -0.908 0.99 0 37.781 280.269)" font-weight="400" stroke="#000" stroke-width="1.6">level</text>
<text transform="matrix(0 -0.901 1.01 0 555.269 270.253)" font-weight="400" stroke="#000" stroke-width="1.6">level</text>
<text transform="matrix(0 -0.901 1 0 557.375 574.253)" font-weight="400" stroke="#000" stroke-width="1.6">level</text>
<text transform="matrix(0 -0.788 1 0 83.125 569.5)">time</text>
</g>
<g font-family="'Noto Sans CJK JP',sans-serif" font-weight="900" font-size="36" fill="#000" stroke="#000" stroke-width="0.9" stroke-linejoin="miter">
<text transform="matrix(1.007 0 0 0.911 433.867 397.3)">→</text>
<text transform="matrix(1.04 0 0 0.911 953.53 401.8)">→</text>
<text transform="matrix(1.025 0 0 0.911 427.847 712.8)">→</text>
<text transform="matrix(1.022 0 0 0.911 961.85 702)">→</text>
<text transform="matrix(0.833 0 0 0.933 50.5 255.852)">↑</text>
<text transform="matrix(0.867 0 0 0.994 567 246.246)">↑</text>
<text transform="matrix(0.833 0 0 0.969 570 550.48)">↑</text>
<text transform="matrix(0.833 0 0 1.007 53.5 626.6)">↓</text>
</g>
</svg>

</body></html>
